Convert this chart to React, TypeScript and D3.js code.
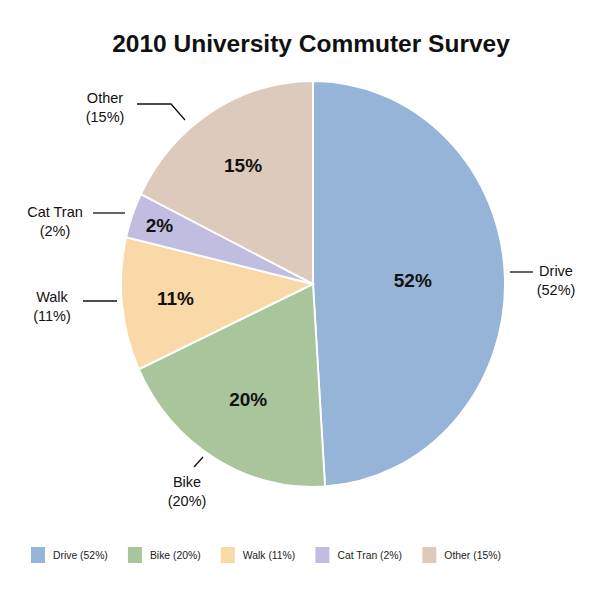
import React from "react";
import * as d3 from "d3";

const width = 600;
const height = 600;
const font = "'Liberation Sans', Arial, Helvetica, sans-serif";

// data
const categories = ["Drive", "Bike", "Walk", "Cat Tran", "Other"];
const labelPercents = [52, 20, 11, 2, 15];
// slice sizes as actually drawn in the reference
const sliceShares = [49.0, 19.1, 10.6, 3.6, 17.7];
const colors = ["#95b4d8", "#a9c59b", "#f9d9a7", "#c1bde1", "#dccbbc"];

const cx = 313;
const cy = 284;
const ry = 203;
const rx = 192;
const squash = rx / ry;

// layout of the callouts (not data)
const innerRadiusFrac = [0.52, 0.66, 0.72, 0.85, 0.69];
const callouts = [
  { line: [[510, 272], [533, 272]], x: 556, y: 276 },
  { line: [[203, 457], [194, 467]], x: 187, y: 487 },
  { line: [[83, 301], [117, 301]], x: 52, y: 302 },
  { line: [[93, 213], [125, 213]], x: 55, y: 217 },
  { line: [[137, 104], [171, 104], [185, 120]], x: 105, y: 103 },
];

const measure = (txt: string, f: string) => {
  const c = document.createElement("canvas").getContext("2d");
  if (!c) return txt.length * 6;
  c.font = f;
  return c.measureText(txt).width;
};

const App = () => {
  const data = categories.map((c, i) => ({
    name: c,
    share: sliceShares[i],
    pct: labelPercents[i],
    color: colors[i],
  }));

  const pie = d3
    .pie<any>()
    .value((d) => d.share)
    .sort(null);
  const arcs = pie(data);
  const arc = d3.arc<any>().innerRadius(0).outerRadius(ry);

  const legendFontSize = 11;
  const legendItems: { x: number; label: string; color: string }[] = [];
  let lx = 31;
  data.forEach((d) => {
    const label = `${d.name} (${d.pct}%)`;
    legendItems.push({ x: lx, label, color: d.color });
    lx += 14 + 8 + measure(label, `${legendFontSize}px ${font}`) * squash + 20;
  });

  return (
    <svg
      width={width}
      height={height}
      style={{ position: "absolute", left: 0, top: 0, background: "#fff" }}
      fontFamily={font}
    >
      <text
        x={311}
        y={52}
        textAnchor="middle"
        fontSize={24.5}
        fontWeight="bold"
        fill="#111"
      >
        2010 University Commuter Survey
      </text>

      <g transform={`translate(${cx},${cy}) scale(${squash},1)`}>
        {arcs.map((a, i) => (
          <path
            key={i}
            d={arc(a) || ""}
            fill={a.data.color}
            stroke="#fff"
            strokeWidth={2}
          />
        ))}
      </g>

      {arcs.map((a, i) => {
        const mid = (a.startAngle + a.endAngle) / 2;
        const f = innerRadiusFrac[i];
        const x = cx + Math.sin(mid) * rx * f;
        const y = cy - Math.cos(mid) * ry * f;
        return (
          <text
            key={i}
            x={x}
            y={y}
            dy="0.35em"
            textAnchor="middle"
            fontSize={19}
            fontWeight="bold"
            fill="#111"
          >
            {a.data.pct}%
          </text>
        );
      })}

      {callouts.map((c, i) => (
        <g key={i}>
          <polyline
            points={c.line.map((p) => p.join(",")).join(" ")}
            fill="none"
            stroke="#111"
            strokeWidth={1.3}
          />
          <text
            x={c.x}
            y={c.y}
            textAnchor="middle"
            fontSize={14.5}
            fill="#111"
          >
            {data[i].name}
          </text>
          <text
            x={c.x}
            y={c.y + 19}
            textAnchor="middle"
            fontSize={14.5}
            fill="#111"
          >
            ({data[i].pct}%)
          </text>
        </g>
      ))}

      {legendItems.map((d, i) => (
        <g key={i}>
          <rect x={d.x} y={547} width={14} height={16} fill={d.color} />
          <text
            transform={`translate(${d.x + 22},559) scale(${squash},1)`}
            fontSize={legendFontSize}
            fill="#222"
          >
            {d.label}
          </text>
        </g>
      ))}
    </svg>
  );
};

export default App;
